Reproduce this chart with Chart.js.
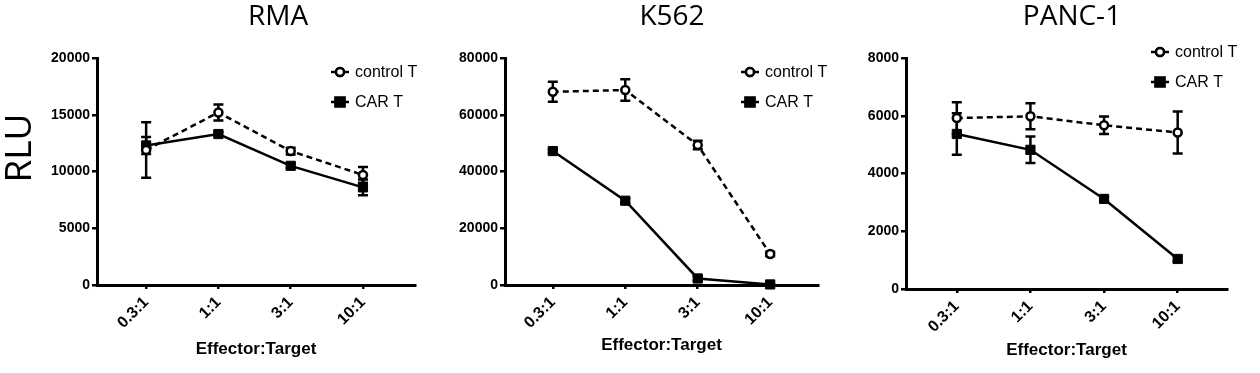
<!DOCTYPE html>
<html>
<head>
<meta charset="utf-8">
<script src="https://cdn.jsdelivr.net/npm/chart.js@4/dist/chart.umd.min.js"></script>
<style>
  body { margin: 0; background: #fff; }
  .panel { position: absolute; top: 0; width: 420px; height: 373px; }
</style>
</head>
<body>
<div class="panel" style="left:0"><canvas id="rma" width="420" height="373"></canvas></div>
<div class="panel" style="left:420px"><canvas id="k562" width="420" height="373"></canvas></div>
<div class="panel" style="left:840px"><canvas id="panc" width="420" height="373"></canvas></div>
<script>
// data
const ratios = ['0.3:1', '1:1', '3:1', '10:1'];

const rmaControl = [11900, 15200, 11800, 9700];
const rmaControlErr = [2450, 700, 300, 700];
const rmaCar = [12300, 13300, 10500, 8600];
const rmaCarErr = [750, 200, 200, 700];

const k562Control = [68100, 68700, 49300, 10900];
const k562ControlErr = [3500, 3800, 1500, 800];
const k562Car = [47200, 29700, 2300, 200];
const k562CarErr = [600, 800, 800, 300];

const pancControl = [5920, 5980, 5670, 5420];
const pancControlErr = [550, 450, 300, 730];
const pancCar = [5370, 4820, 3120, 1040];
const pancCarErr = [720, 460, 80, 100];

const rmaTicks = [0, 5000, 10000, 15000, 20000];
const k562Ticks = [0, 20000, 40000, 60000, 80000];
const pancTicks = [0, 2000, 4000, 6000, 8000];

const AXIS_FONT = '"Liberation Sans", Arial, sans-serif';
const TITLE_FONT = '"Open Sans", "Noto Sans", sans-serif';

// error bars, titles and the little legends
const extras = {
    id: 'extras',
    beforeDatasetsDraw(chart) {
        const ctx = chart.ctx;
        const y = chart.scales.y;
        ctx.save();
        ctx.strokeStyle = '#000';
        ctx.lineWidth = 2.5;
        chart.data.datasets.forEach((ds, i) => {
            const meta = chart.getDatasetMeta(i);
            ds.errors.forEach((e, j) => {
                const px = meta.data[j].x;
                const top = y.getPixelForValue(ds.data[j].y + e);
                const bot = y.getPixelForValue(ds.data[j].y - e);
                ctx.beginPath();
                ctx.moveTo(px, top); ctx.lineTo(px, bot);
                ctx.moveTo(px - 5, top); ctx.lineTo(px + 5, top);
                ctx.moveTo(px - 5, bot); ctx.lineTo(px + 5, bot);
                ctx.stroke();
            });
        });
        ctx.restore();
    },
    afterDraw(chart, args, opts) {
        const ctx = chart.ctx;
        ctx.save();
        ctx.fillStyle = '#000';
        ctx.font = '28px ' + TITLE_FONT;
        ctx.textAlign = 'center';
        ctx.textBaseline = 'alphabetic';
        ctx.fillText(opts.title, opts.titleX, 25);

        if (opts.yLabel) {
            ctx.save();
            ctx.translate(31, 148);
            ctx.rotate(-Math.PI / 2);
            ctx.font = '37px ' + TITLE_FONT;
            ctx.fillText(opts.yLabel, 0, 0);
            ctx.restore();
        }

        // legend
        chart.data.datasets.forEach((ds, i) => {
            const mx = opts.legendX;
            const my = opts.legendY + i * 30;
            ctx.strokeStyle = '#000';
            ctx.lineWidth = 2.5;
            ctx.beginPath();
            ctx.moveTo(mx - 9, my); ctx.lineTo(mx + 9, my);
            ctx.stroke();
            Chart.helpers.drawPoint(ctx, {
                pointStyle: ds.pointStyle, radius: ds.pointRadius,
                borderWidth: ds.pointBorderWidth, rotation: 0
            }, mx, my);
            ctx.fillStyle = ds.pointBackgroundColor;
            ctx.strokeStyle = '#000';
            ctx.lineWidth = ds.pointBorderWidth;
            ctx.fill();
            ctx.stroke();
            ctx.fillStyle = '#000';
            ctx.font = '16px ' + AXIS_FONT;
            ctx.textAlign = 'left';
            ctx.textBaseline = 'middle';
            ctx.fillText(ds.label, mx + 15, my + 1);
        });
        ctx.restore();
    }
};

function makeChart(id, p) {
    const pts = arr => arr.map((v, i) => ({x: i, y: v}));
    new Chart(document.getElementById(id), {
        type: 'line',
        data: {
            datasets: [{
                label: 'control T',
                data: pts(p.control),
                errors: p.controlErr,
                borderColor: '#000',
                borderWidth: 2.5,
                borderDash: [6, 4],
                pointStyle: 'circle',
                pointRadius: 4,
                pointBorderWidth: 2.5,
                pointBackgroundColor: '#fff',
                pointBorderColor: '#000',
                tension: 0,
                clip: false
            }, {
                label: 'CAR T',
                data: pts(p.car),
                errors: p.carErr,
                borderColor: '#000',
                borderWidth: 2.5,
                pointStyle: 'rect',
                pointRadius: 6.5,
                pointBorderWidth: 1,
                pointBackgroundColor: '#000',
                pointBorderColor: '#000',
                tension: 0,
                clip: false
            }]
        },
        options: {
            responsive: false,
            animation: false,
            layout: {
                autoPadding: false,
                padding: {top: 58, right: 420 - p.right, left: 0, bottom: 0}
            },
            scales: {
                x: {
                    type: 'linear',
                    min: p.xMin,
                    max: p.xMax,
                    afterBuildTicks: s => { s.ticks = ratios.map((r, i) => ({value: i})); },
                    afterFit: s => { s.height = 373 - p.bottom; },
                    border: {display: true, color: '#000', width: 3},
                    grid: {display: true, drawOnChartArea: false, drawTicks: true,
                           tickLength: 4, lineWidth: 2.5, color: '#000'},
                    ticks: {
                        autoSkip: false, minRotation: 45, maxRotation: 45,
                        padding: 4, color: '#000',
                        font: {family: AXIS_FONT, size: 16, weight: 'bold'},
                        callback: v => ratios[v]
                    },
                    title: {
                        display: true, text: 'Effector:Target', color: '#000',
                        font: {family: AXIS_FONT, size: 17, weight: 'bold'},
                        padding: {top: 0, bottom: p.titlePad}
                    }
                },
                y: {
                    min: 0,
                    max: p.ticks[p.ticks.length - 1],
                    afterBuildTicks: s => { s.ticks = p.ticks.map(v => ({value: v})); },
                    afterFit: s => { s.width = p.left; },
                    border: {display: true, color: '#000', width: 3},
                    grid: {display: true, drawOnChartArea: false, drawTicks: true,
                           tickLength: 5, lineWidth: 2.5, color: '#000'},
                    ticks: {
                        padding: 2, color: '#000',
                        font: {family: AXIS_FONT, size: 14, weight: 'bold'},
                        callback: v => String(v)
                    }
                }
            },
            plugins: {
                legend: {display: false},
                tooltip: {enabled: false},
                extras: {
                    title: p.title, titleX: p.titleX, yLabel: p.yLabel,
                    legendX: p.legendX, legendY: p.legendY
                }
            }
        },
        plugins: [extras]
    });
}

makeChart('rma', {
    title: 'RMA', titleX: 278, yLabel: 'RLU',
    control: rmaControl, controlErr: rmaControlErr, car: rmaCar, carErr: rmaCarErr,
    ticks: rmaTicks, left: 97, right: 415, bottom: 285, xMin: -0.68, xMax: 3.72,
    legendX: 340, legendY: 72, titlePad: 13
});
makeChart('k562', {
    title: 'K562', titleX: 252,
    control: k562Control, controlErr: k562ControlErr, car: k562Car, carErr: k562CarErr,
    ticks: k562Ticks, left: 85, right: 398, bottom: 285, xMin: -0.66, xMax: 3.66,
    legendX: 330, legendY: 72, titlePad: 17
});
makeChart('panc', {
    title: 'PANC-1', titleX: 232,
    control: pancControl, controlErr: pancControlErr, car: pancCar, carErr: pancCarErr,
    ticks: pancTicks, left: 66, right: 387, bottom: 289, xMin: -0.69, xMax: 3.67,
    legendX: 320, legendY: 52, titlePad: 12
});
</script>
</body>
</html>
